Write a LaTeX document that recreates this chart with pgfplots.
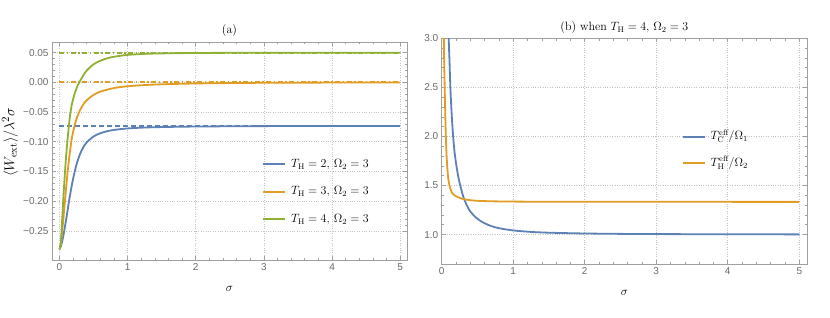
\documentclass[border=0pt]{standalone}
\usepackage{fontspec}
\setsansfont{Liberation Sans}
\usepackage{pgfplots}
\pgfplotsset{compat=1.18}
\definecolor{mblue}{RGB}{94,129,181}
\definecolor{morange}{RGB}{225,156,36}
\definecolor{mgreen}{RGB}{143,176,50}
\definecolor{framec}{RGB}{160,160,160}
\definecolor{ticklab}{RGB}{105,105,105}
\definecolor{gridc}{RGB}{195,195,195}
\pgfplotsset{mstyle/.style={
  scale only axis,
  axis line style={framec, line width=0.8pt},
  tick style={framec, line width=0.6pt},
  major tick length=4pt, minor tick length=2.5pt,
  tick align=inside,
  minor x tick num=4, minor y tick num=4,
  grid=major,
  major grid style={gridc, dotted, line width=0.7pt},
  tick label style={font=\sffamily\fontsize{10}{12}\selectfont, text=ticklab},
  label style={font=\fontsize{12}{14}\selectfont},
  title style={font=\fontsize{12}{14}\selectfont, at={(0.5,1)}, anchor=center, yshift=5pt},
  xlabel style={at={(0.5,0)}, anchor=center, yshift=-28.5pt},
  legend style={draw=none, fill=none, font=\fontsize{12}{14}\selectfont, inner sep=0pt,
    nodes={inner sep=1pt, text height=9pt, text depth=3pt}},
  legend cell align=left,
  legend image code/.code={\draw[#1] (0pt,0pt) -- (22pt,0pt); \path (26pt,0pt);},
  xtick={0,1,2,3,4,5},
  xticklabels={0,1,2,3,4,5},
}}
\tikzset{cw/.style={line width=1.8pt}}
\begin{document}
\begin{tikzpicture}
\path[use as bounding box] (0pt,0pt) rectangle (830pt,317pt);
% ---------------- (a) ----------------
\begin{axis}[mstyle,
  at={(52pt,57pt)}, anchor=south west,
  width=355pt, height=218pt,
  xmin=-0.11, xmax=5.1, ymin=-0.299, ymax=0.068,
  ytick={-0.25,-0.2,-0.15,-0.1,-0.05,0,0.05},
  yticklabels={−0.25,−0.20,−0.15,−0.10,−0.05,0.00,0.05},
  title={(a)},
  xlabel={$\sigma$},
  ylabel={$\langle W_{\mathrm{ext}}\rangle/\lambda^2\sigma$},
  ylabel style={at={(-0.118,0.541)}, anchor=center, font=\fontsize{15}{17}\selectfont},
  legend style={at={(0.592,0.313)}, anchor=west, row sep=13.5pt},
]
\addplot[mblue, cw, dash pattern=on 5pt off 3pt, forget plot] coordinates {(0,-0.0733) (5,-0.0733)};
\addplot[morange, cw, dash pattern=on 5pt off 2.5pt on 1.5pt off 2.5pt, forget plot] coordinates {(0,0) (5,0)};
\addplot[mgreen, cw, dash pattern=on 5pt off 2.5pt on 1.5pt off 2.5pt, forget plot] coordinates {(0,0.05) (5,0.05)};
\addplot[mblue, cw, smooth] coordinates {
(0,-0.281) (0.02,-0.276) (0.05,-0.262) (0.08,-0.243) (0.11,-0.222) (0.14,-0.200)
(0.17,-0.180) (0.20,-0.162) (0.25,-0.138) (0.30,-0.121) (0.35,-0.109) (0.40,-0.101)
(0.50,-0.091) (0.60,-0.0855) (0.70,-0.0822) (0.80,-0.0800) (1.0,-0.0775) (1.25,-0.0760)
(1.5,-0.0752) (2.0,-0.0743) (2.5,-0.0739) (3,-0.0736) (4,-0.0734) (5,-0.0733)};
\addlegendentry{$T_{\mathrm{H}}=2,\,\Omega_2=3$}
\addplot[morange, cw, smooth] coordinates {
(0,-0.281) (0.02,-0.272) (0.04,-0.250) (0.06,-0.226) (0.08,-0.200) (0.10,-0.174)
(0.12,-0.150) (0.15,-0.120) (0.18,-0.095) (0.22,-0.073) (0.26,-0.058) (0.30,-0.047)
(0.35,-0.037) (0.40,-0.030) (0.50,-0.021) (0.60,-0.0155) (0.80,-0.0095) (1.0,-0.0065)
(1.25,-0.0045) (1.5,-0.0032) (2,-0.0018) (2.5,-0.0011) (3,-0.0007) (4,-0.0003) (5,-0.0001)};
\addlegendentry{$T_{\mathrm{H}}=3,\,\Omega_2=3$}
\addplot[mgreen, cw, smooth] coordinates {
(0,-0.281) (0.02,-0.268) (0.04,-0.230) (0.06,-0.188) (0.08,-0.152) (0.10,-0.120)
(0.12,-0.094) (0.15,-0.060) (0.18,-0.038) (0.22,-0.020) (0.26,-0.007) (0.30,0.002)
(0.35,0.012) (0.40,0.020) (0.50,0.0305) (0.60,0.0365) (0.70,0.0405) (0.80,0.0432)
(1.0,0.0463) (1.25,0.0480) (1.5,0.0488) (2,0.0495) (3,0.0499) (5,0.0500)};
\addlegendentry{$T_{\mathrm{H}}=4,\,\Omega_2=3$}
\end{axis}
% ---------------- (b) ----------------
\begin{axis}[mstyle,
  at={(441.7pt,53pt)}, anchor=south west,
  width=365.3pt, height=225.7pt,
  xmin=0, xmax=5.108, ymin=0.70, ymax=3.0,
  ytick={1,1.5,2,2.5,3},
  yticklabels={1.0,1.5,2.0,2.5,3.0},
  title={(b) when $T_{\mathrm{H}}=4$, $\Omega_2=3$},
  xlabel={$\sigma$},
  legend style={at={(0.657,0.505)}, anchor=west, row sep=12.6pt},
]
\addplot[mblue, cw, smooth] coordinates {
(0.090,3.3) (0.098,3.0) (0.11,2.75) (0.121,2.5) (0.14,2.22) (0.16,2.0) (0.18,1.84)
(0.21,1.68) (0.24,1.56) (0.27,1.47) (0.30,1.39) (0.35,1.30) (0.40,1.235) (0.50,1.16)
(0.60,1.115) (0.70,1.085) (0.80,1.065) (1.0,1.042) (1.25,1.027) (1.5,1.019) (2.0,1.011)
(2.5,1.007) (3,1.005) (4,1.003) (5,1.002)};
\addlegendentry{$T^{\mathrm{eff}}_{\mathrm{C}}/\Omega_1$}
\addplot[morange, cw, smooth] coordinates {
(0.026,3.3) (0.030,3.0) (0.035,2.75) (0.042,2.5) (0.05,2.22) (0.058,2.0) (0.07,1.78)
(0.085,1.62) (0.10,1.53) (0.12,1.47) (0.15,1.42) (0.20,1.39) (0.25,1.374) (0.30,1.362)
(0.40,1.350) (0.50,1.344) (0.70,1.339) (1.0,1.336) (1.5,1.3345) (2,1.334) (3,1.3335) (5,1.3333)};
\addlegendentry{$T^{\mathrm{eff}}_{\mathrm{H}}/\Omega_2$}
\end{axis}
\end{tikzpicture}
\end{document}
